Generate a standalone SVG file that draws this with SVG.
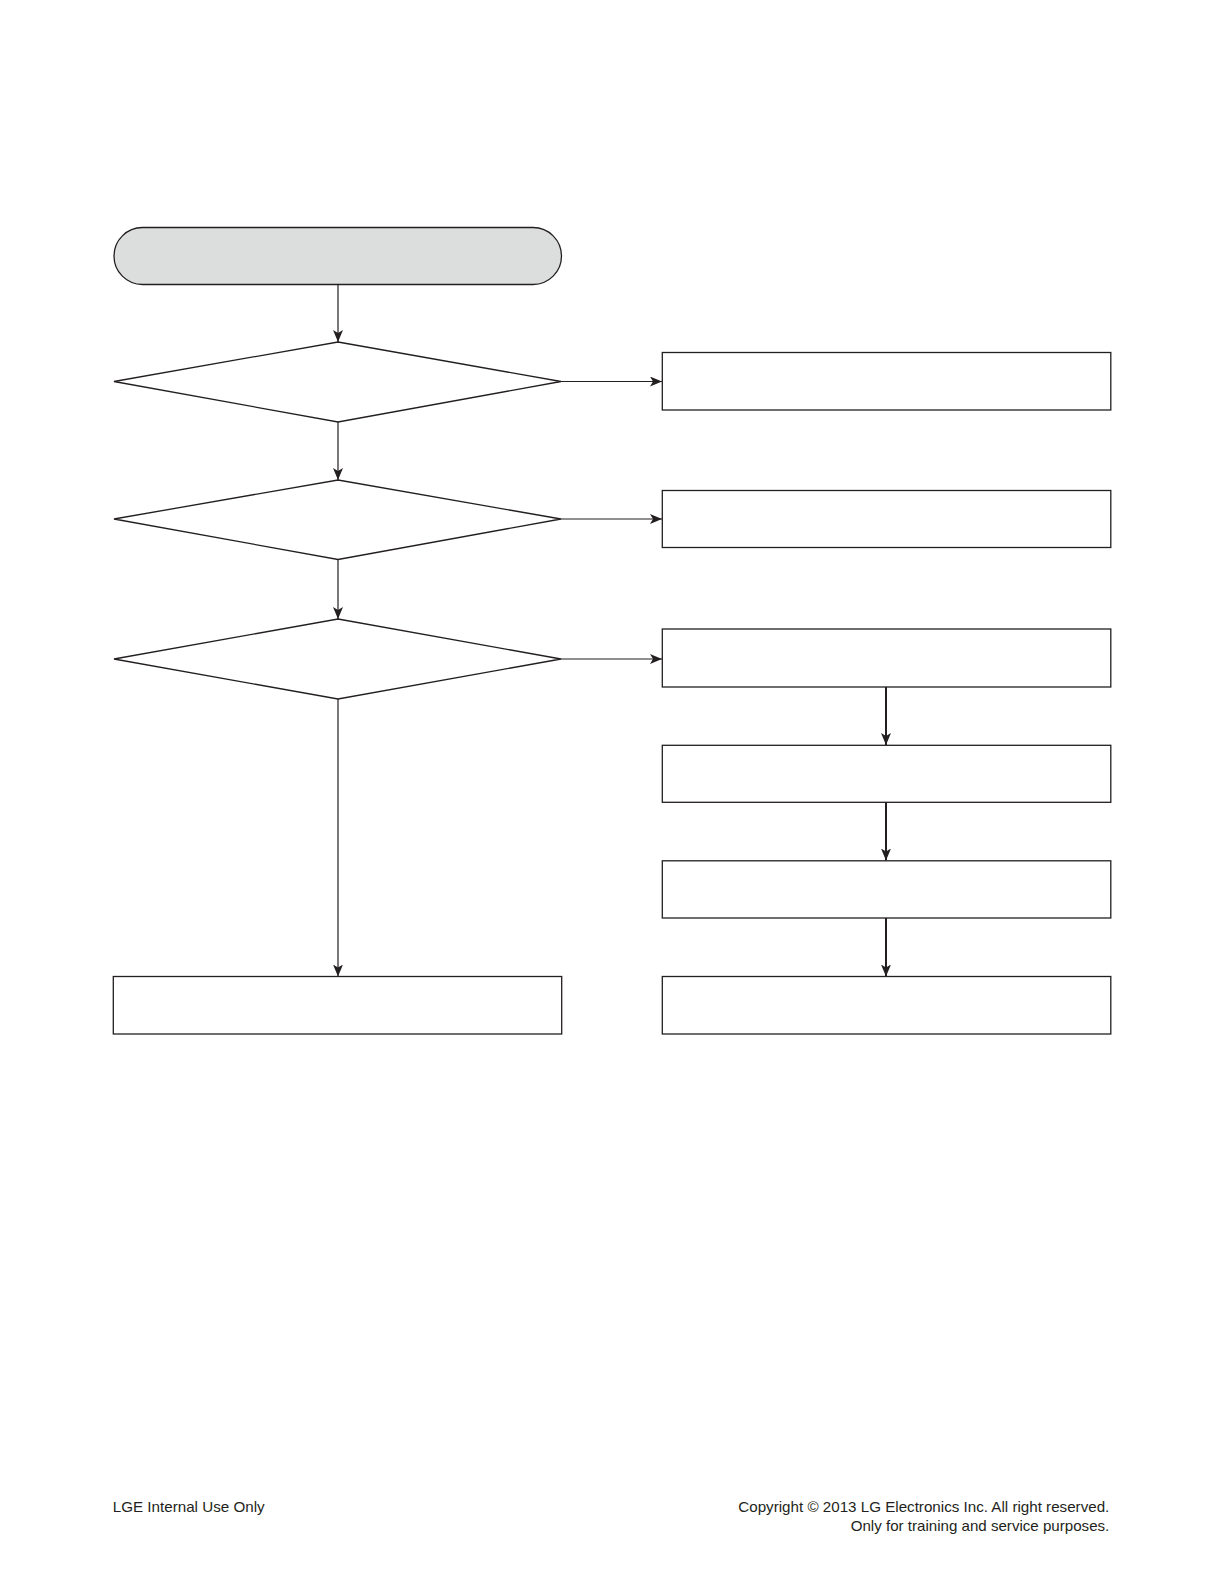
<svg xmlns="http://www.w3.org/2000/svg" width="1224" height="1584" viewBox="0 0 1224 1584">
<style>
.node{fill:#fff;stroke:#231f20;stroke-width:1.3}
.term{fill:#dcdddd;stroke:#231f20;stroke-width:1.3}
.c{fill:none;stroke:#231f20;stroke-width:1.2}
.ct{fill:none;stroke:#231f20;stroke-width:2}
.ft{font-family:"Liberation Sans",Arial,sans-serif;font-size:15px;fill:#231f20}
</style>
<defs>
<marker id="ah" markerUnits="userSpaceOnUse" markerWidth="12" markerHeight="10" viewBox="0 0 12 10" refX="12" refY="5" orient="auto">
<path d="M0,0 L12,5 L0,10 L3,5 Z" fill="#231f20"/>
</marker>
</defs>
<rect width="1224" height="1584" fill="#fff"/>
<g id="connectors">
<path class="c" d="M338,285 V342" marker-end="url(#ah)"/>
<path class="c" d="M338,422 V480" marker-end="url(#ah)"/>
<path class="c" d="M338,559.5 V619" marker-end="url(#ah)"/>
<path class="c" d="M338,699 V976.5" marker-end="url(#ah)"/>
<path class="c" d="M561,381.5 H662" marker-end="url(#ah)"/>
<path class="c" d="M561,519 H662" marker-end="url(#ah)"/>
<path class="c" d="M561,659 H662" marker-end="url(#ah)"/>
<path class="ct" d="M886,687 V745" marker-end="url(#ah)"/>
<path class="ct" d="M886,802 V860.5" marker-end="url(#ah)"/>
<path class="ct" d="M886,918 V976.5" marker-end="url(#ah)"/>
</g>
<g id="start"><rect class="term" x="114" y="227.5" width="447.5" height="57" rx="28.5" ry="28.5"/></g>
<g id="decision1"><polygon class="node" points="338,342 561,381.5 338,422 114,381.5"/></g>
<g id="decision2"><polygon class="node" points="338,480 561,519 338,559.5 114,519"/></g>
<g id="decision3"><polygon class="node" points="338,619 561,659 338,699 114,659"/></g>
<g id="box1"><rect class="node" x="662.3" y="352.5" width="448.5" height="57.5"/></g>
<g id="box2"><rect class="node" x="662.3" y="490.5" width="448.5" height="57"/></g>
<g id="box3"><rect class="node" x="662.3" y="629" width="448.5" height="58"/></g>
<g id="box4"><rect class="node" x="662.3" y="745.3" width="448.5" height="57"/></g>
<g id="box5"><rect class="node" x="662.3" y="860.8" width="448.5" height="57.2"/></g>
<g id="box6"><rect class="node" x="662.3" y="976.5" width="448.5" height="57.5"/></g>
<g id="box7"><rect class="node" x="113.3" y="976.5" width="448.4" height="57.5"/></g>
<text class="ft" x="112.7" y="1512.3" textLength="152" lengthAdjust="spacingAndGlyphs">LGE Internal Use Only</text>
<text class="ft" x="738.3" y="1512" textLength="371" lengthAdjust="spacingAndGlyphs">Copyright © 2013 LG Electronics Inc. All right reserved.</text>
<text class="ft" x="850.7" y="1531" textLength="258.6" lengthAdjust="spacingAndGlyphs">Only for training and service purposes.</text>
</svg>
